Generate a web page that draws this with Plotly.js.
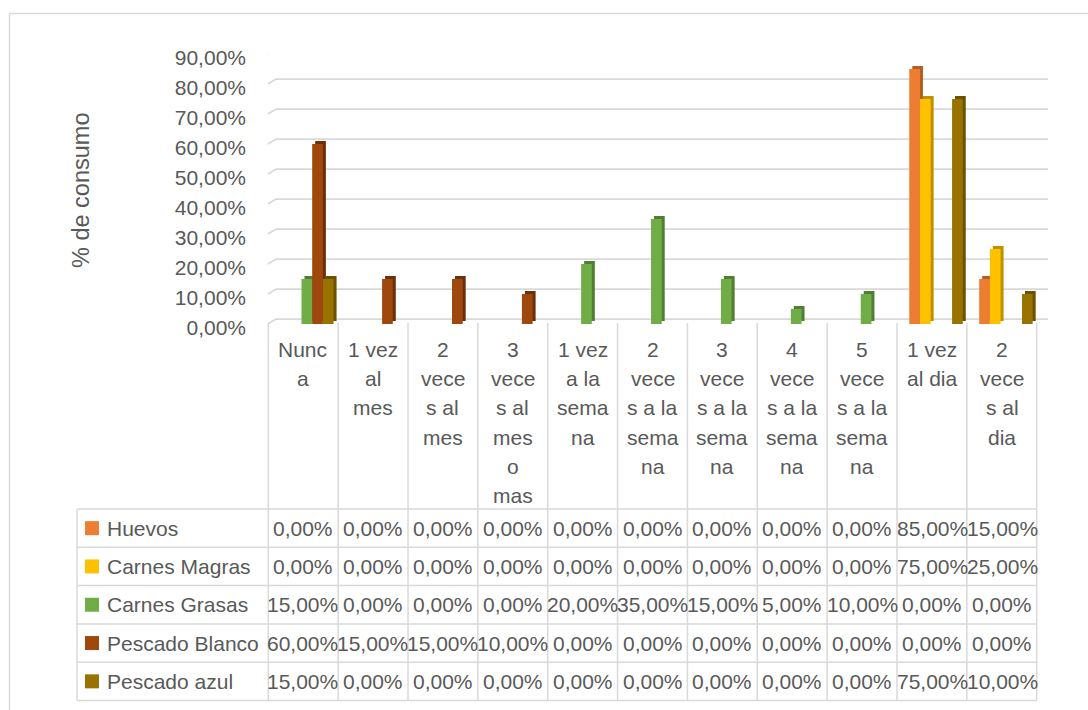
<!DOCTYPE html>
<html>
<head>
<meta charset="utf-8">
<script src="https://cdn.plot.ly/plotly-3.0.1.min.js"></script>
<style>html,body{margin:0;padding:0;background:#fff;}#chart{width:1088px;height:710px;}</style>
</head>
<body>
<div id="chart"></div>
<script>
// ---- DATA ----
const categories = ["Nunca","1 vez al mes","2 veces al mes","3 veces al mes o mas","1 vez a la semana","2 veces a la semana","3 veces a la semana","4 veces a la semana","5 veces a la semana","1 vez al dia","2 veces al dia"];
const categoryLabels = ["Nunc<br>a","1 vez<br>al<br>mes","2<br>vece<br>s al<br>mes","3<br>vece<br>s al<br>mes<br>o<br>mas","1 vez<br>a la<br>sema<br>na","2<br>vece<br>s a la<br>sema<br>na","3<br>vece<br>s a la<br>sema<br>na","4<br>vece<br>s a la<br>sema<br>na","5<br>vece<br>s a la<br>sema<br>na","1 vez<br>al dia","2<br>vece<br>s al<br>dia"];
const seriesNames = ["Huevos","Carnes Magras","Carnes Grasas","Pescado Blanco","Pescado azul"];
const huevos        = [0,0,0,0,0,0,0,0,0,0.85,0.15];
const carnesMagras  = [0,0,0,0,0,0,0,0,0,0.75,0.25];
const carnesGrasas  = [0.15,0,0,0,0.20,0.35,0.15,0.05,0.10,0,0];
const pescadoBlanco = [0.60,0.15,0.15,0.10,0,0,0,0,0,0,0];
const pescadoAzul   = [0.15,0,0,0,0,0,0,0,0,0.75,0.10];
const yTickVals = [0,0.1,0.2,0.3,0.4,0.5,0.6,0.7,0.8,0.9];
const yTickText = ["0,00%","10,00%","20,00%","30,00%","40,00%","50,00%","60,00%","70,00%","80,00%","90,00%"];
const yTitle = "% de consumo";

// ---- STYLE ----
const seriesValues = [huevos, carnesMagras, carnesGrasas, pescadoBlanco, pescadoAzul];
const frontColors = ["#ED7D31","#FFC000","#70AD47","#9E480E","#997300"];
const sideColors  = ["#B25E25","#BF9000","#507E32","#6B300A","#6B5100"];
const FONT = "Liberation Sans, Arial, sans-serif";
const TXT = "#595959";
const GRID = "#D9D9D9";
const L = 268, R = 51, T = 54, B = 386, W = 1088, H = 710;
const PW = W - L - R, PH = H - T - B;
const X = px => (px - L) / PW;
const Y = py => (H - B - py) / PH;

const xs = categories.map((c, i) => i);
const barW = 0.153;
const firstOff = -0.327;
const sideShift = 3 / (PW / 11);
const sideLift = 3 / 300;

const traces = [];
seriesValues.forEach((vals, i) => {
  traces.push({
    type: "bar", x: xs, y: vals, base: sideLift, name: seriesNames[i] + " lado",
    width: barW, offset: firstOff + i * barW + sideShift,
    marker: {color: sideColors[i]}, showlegend: false, hoverinfo: "skip", textposition: "none"
  });
});
seriesValues.forEach((vals, i) => {
  traces.push({
    type: "bar", x: xs, y: vals, name: seriesNames[i],
    width: barW, offset: firstOff + i * barW,
    marker: {color: frontColors[i]}, showlegend: false, textposition: "none",
    customdata: categories, hovertemplate: "%{customdata}: %{y:.2%}<extra>" + seriesNames[i] + "</extra>"
  });
});

const shapes = [];
const annotations = [];
// outer border (top + left visible)
shapes.push({type: "line", xref: "paper", yref: "paper", x0: X(9.5), x1: X(1088), y0: Y(13.5), y1: Y(13.5), line: {color: GRID, width: 1.5}});
shapes.push({type: "line", xref: "paper", yref: "paper", x0: X(9.5), x1: X(9.5), y0: Y(13.5), y1: Y(710), line: {color: GRID, width: 1.5}});
// 3D back-wall gridlines
const backPx = 5;
yTickVals.forEach(v => {
  const yf = v, yb = v + backPx / 300;
  shapes.push({type: "path", xref: "paper", yref: "y", layer: "below",
    path: `M ${X(268)},${yf} L ${X(276)},${yb} L ${X(1048)},${yb}`,
    line: {color: GRID, width: 1.75}});
});
// table grid
const colW = (1036.7 - 268.3) / 11;
for (let k = 0; k <= 11; k++) {
  const xp = 268.3 + k * colW;
  shapes.push({type: "line", xref: "paper", yref: "paper", x0: X(xp), x1: X(xp), y0: Y(323), y1: Y(700.5), line: {color: GRID, width: 1.5}});
}
const rowTop = 509, rowH = 38.3;
for (let r = 0; r <= 5; r++) {
  const yp = rowTop + r * rowH;
  shapes.push({type: "line", xref: "paper", yref: "paper", x0: X(77), x1: X(1036.7), y0: Y(yp), y1: Y(yp), line: {color: GRID, width: 1.5}});
}
shapes.push({type: "line", xref: "paper", yref: "paper", x0: X(77), x1: X(77), y0: Y(rowTop), y1: Y(rowTop + 5 * rowH), line: {color: GRID, width: 1.5}});

// category labels (wrapped as in the original)
const lineStep = 29.3, firstLine = 349.3;
categoryLabels.forEach((lab, k) => {
  lab.split("<br>").forEach((ln, j) => {
    annotations.push({xref: "x", yref: "paper", x: k, y: Y(firstLine + j * lineStep),
      text: ln, showarrow: false, xanchor: "center", yanchor: "middle",
      font: {family: FONT, size: 21, color: TXT}});
  });
});
// data table rows
const fmt = v => (v * 100).toFixed(2).replace(".", ",") + "%";
seriesNames.forEach((nm, r) => {
  const yc = rowTop + (r + 0.5) * rowH;
  shapes.push({type: "rect", xref: "paper", yref: "paper", x0: X(85), x1: X(99), y0: Y(yc - 7), y1: Y(yc + 7), line: {width: 0}, fillcolor: frontColors[r]});
  annotations.push({xref: "paper", yref: "paper", x: X(105), y: Y(yc), text: nm, showarrow: false, xanchor: "left", yanchor: "middle", font: {family: FONT, size: 21, color: TXT}});
  seriesValues[r].forEach((v, k) => {
    annotations.push({xref: "x", yref: "paper", x: k, y: Y(yc), text: fmt(v), showarrow: false, xanchor: "center", yanchor: "middle", font: {family: FONT, size: 21, color: TXT}});
  });
});
// y title
annotations.push({xref: "paper", yref: "paper", x: X(81), y: Y(191), text: yTitle, textangle: -90, showarrow: false, xanchor: "center", yanchor: "middle", font: {family: FONT, size: 23.5, color: TXT}});

const layout = {
  width: W, height: H,
  margin: {l: L, r: R, t: T, b: B, pad: 0},
  paper_bgcolor: "#FFFFFF", plot_bgcolor: "rgba(0,0,0,0)",
  barmode: "overlay", showlegend: false,
  font: {family: FONT, color: TXT},
  xaxis: {range: [-0.5, 10.5], showticklabels: false, showgrid: false, zeroline: false, showline: false, ticks: "", fixedrange: true},
  yaxis: {range: [0, 0.9], tickvals: yTickVals, ticktext: yTickText, showgrid: false, zeroline: false, showline: false, ticks: "",
    ticklabelstandoff: 21, ticklabelshift: 4, tickfont: {family: FONT, size: 21, color: TXT}, fixedrange: true},
  shapes: shapes, annotations: annotations
};
Plotly.newPlot("chart", traces, layout, {staticPlot: true, displayModeBar: false});
</script>
</body>
</html>
